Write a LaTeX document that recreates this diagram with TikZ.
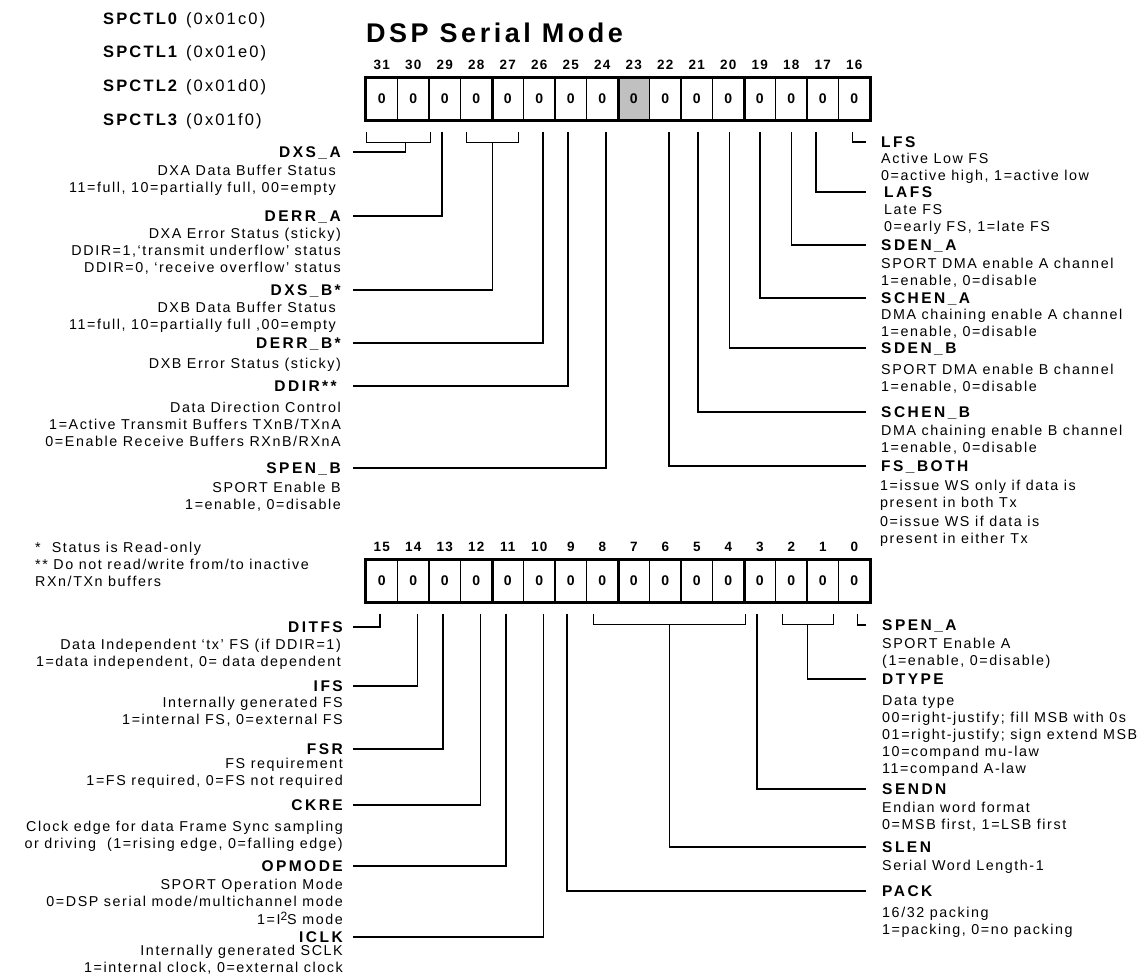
\documentclass[tikz,border=0pt]{standalone}
\usepackage{fontspec}
\setmainfont{Liberation Sans}
\newfontfamily\bodyf[LetterSpace=11]{Liberation Sans}
\newfontfamily\labf[LetterSpace=16]{Liberation Sans}
\newfontfamily\hdf[LetterSpace=13]{Liberation Sans}
\newfontfamily\numf[LetterSpace=8]{Liberation Sans}
\definecolor{graycell}{RGB}{192,192,192}
\begin{document}
\begin{tikzpicture}[x=1pt,y=-1pt,
  cell/.style={draw, line width=1.2pt, minimum width=31.5pt, minimum height=42pt, inner sep=0pt, font=\numf\bfseries\fontsize{14}{16}\selectfont},
  bitno/.style={inner sep=0pt, font=\numf\bfseries\fontsize{13.5}{15}\selectfont},
  conn/.style={line width=1.5pt},
  ttl/.style={inner sep=0pt, text height=11pt, text depth=0pt, font=\labf\bfseries\fontsize{15.5}{17}\selectfont},
  dsc/.style={inner sep=0pt, font=\bodyf\fontsize{14.3}{17}\selectfont},
  ldsc/.style={dsc, align=right, anchor=north east},
  rdsc/.style={dsc, align=left, anchor=north west},
  lttl/.style={ttl, anchor=east},
  rttl/.style={ttl, anchor=west},
  spc/.style={anchor=west, inner sep=0pt, font=\hdf\fontsize{16.5}{18}\selectfont},
  border/.style={line width=3pt},
  sep/.style={line width=3.5pt}]
\useasboundingbox (0,0) rectangle (1144,978);
\fill[white] (0,0) rectangle (1144,978);
% header
\node[spc] (s0) at (103,20) {\textbf{SPCTL0} (0x01c0)};
\node[spc] (s1) at (103,53) {\textbf{SPCTL1} (0x01e0)};
\node[spc] (s2) at (103,87) {\textbf{SPCTL2} (0x01d0)};
\node[spc] (s3) at (103,121) {\textbf{SPCTL3} (0x01f0)};
\node[anchor=west, inner sep=0pt, font=\hdf\bfseries\fontsize{27}{30}\selectfont] (title) at (366,33) {DSP Serial Mode};
% top register
\foreach \b/\f in {31/white,30/white,29/white,28/white,27/white,26/white,25/white,24/white,23/graycell,22/white,21/white,20/white,19/white,18/white,17/white,16/white}{
  \node[cell, fill=\f] (b\b) at ({366+(31-\b)*31.5+15.75},99) {0};
  \node[bitno] (n\b) at ({366+(31-\b)*31.5+15.75},65) {\b};
}
\draw[border] (b31.north west) rectangle (b16.south east);
\foreach \s in {28,24,20} \draw[sep] (b\s.north east) -- (b\s.south east);
% bottom register
\foreach \b in {15,14,...,0}{
  \node[cell, fill=white] (b\b) at ({366+(15-\b)*31.5+15.75},581) {0};
  \node[bitno] (n\b) at ({366+(15-\b)*31.5+15.75},547) {\b};
}
\draw[border] (b15.north west) rectangle (b0.south east);
\foreach \s in {12,8,4} \draw[sep] (b\s.north east) -- (b\s.south east);
\coordinate (lx) at (353,0);
\coordinate (rx) at (866,0);
% left labels (top)
\node[lttl] (DXSA) at (341,152) {DXS\_A};
\node[ldsc] (DXSAd) at (336,165) {DXA Data Buffer Status\\11=full, 10=partially full, 00=empty};
\node[lttl] (DERRA) at (341,216) {DERR\_A};
\node[ldsc] (DERRAd) at (341,228) {DXA Error Status (sticky)\\DDIR=1,‘transmit underflow’ status\\DDIR=0, ‘receive overflow’ status};
\node[lttl] (DXSB) at (341,290) {DXS\_B*};
\node[ldsc] (DXSBd) at (336,302) {DXB Data Buffer Status\\11=full, 10=partially full ,00=empty};
\node[lttl] (DERRB) at (341,343) {DERR\_B*};
\node[ldsc] (DERRBd) at (341,358) {DXB Error Status (sticky)};
\node[lttl] (DDIR) at (337,386) {DDIR**};
\node[ldsc] (DDIRd) at (341,402) {Data Direction Control\\1=Active Transmit Buffers TXnB/TXnA\\0=Enable Receive Buffers RXnB/RXnA};
\node[lttl] (SPENB) at (341,468) {SPEN\_B};
\node[ldsc] (SPENBd) at (341,482) {SPORT Enable B\\1=enable, 0=disable};
\node[dsc, align=left, anchor=north west] (fn) at (35,542) {*~~Status is Read-only\\** Do not read/write from/to inactive\\RXn/TXn buffers};
% left labels (bottom)
\node[lttl] (DITFS) at (343,627) {DITFS};
\node[ldsc] (DITFSd) at (341,639) {Data Independent ‘tx’ FS (if DDIR=1)\\1=data independent, 0= data dependent};
\node[lttl] (IFS) at (343,686) {IFS};
\node[ldsc] (IFSd) at (343,697) {Internally generated FS\\1=internal FS, 0=external FS};
\node[lttl] (FSR) at (343,749) {FSR};
\node[ldsc] (FSRd) at (343,758) {FS requirement\\1=FS required, 0=FS not required};
\node[lttl] (CKRE) at (343,805) {CKRE};
\node[ldsc] (CKREd) at (343,821) {Clock edge for data Frame Sync sampling\\or driving~~(1=rising edge, 0=falling edge)};
\node[lttl] (OPMODE) at (343,866) {OPMODE};
\node[ldsc] (OPMODEd) at (343,879) {SPORT Operation Mode\\0=DSP serial mode/multichannel mode\\[1pt]1=I\raisebox{4.5pt}{\fontsize{12}{12}\selectfont 2}S mode};
\node[lttl] (ICLK) at (343,937) {ICLK};
\node[ldsc] (ICLKd) at (343,945) {Internally generated SCLK\\1=internal clock, 0=external clock};
% right labels (top)
\node[rttl] (LFS) at (881,142) {LFS};
\node[rdsc] (LFSd) at (881,153) {Active Low FS\\0=active high, 1=active low};
\node[rttl] (LAFS) at (884,192) {LAFS};
\node[rdsc] (LAFSd) at (884,204) {Late FS\\0=early FS, 1=late FS};
\node[rttl] (SDENA) at (881,245) {SDEN\_A};
\node[rdsc] (SDENAd) at (881,258) {SPORT DMA enable A channel\\1=enable, 0=disable};
\node[rttl] (SCHENA) at (881,298) {SCHEN\_A};
\node[rdsc] (SCHENAd) at (881,309) {DMA chaining enable A channel\\1=enable, 0=disable};
\node[rttl] (SDENB) at (881,348) {SDEN\_B};
\node[rdsc] (SDENBd) at (881,364) {SPORT DMA enable B channel\\1=enable, 0=disable};
\node[rttl] (SCHENB) at (881,412) {SCHEN\_B};
\node[rdsc] (SCHENBd) at (881,425) {DMA chaining enable B channel\\1=enable, 0=disable};
\node[rttl] (FSBOTH) at (881,466) {FS\_BOTH};
\node[rdsc] (FSBOTHd) at (880,480) {1=issue WS only if data is\\present in both Tx\\[2pt]0=issue WS if data is\\present in either Tx};
% right labels (bottom)
\node[rttl] (SPENA) at (882,625) {SPEN\_A};
\node[rdsc] (SPENAd) at (882,638) {SPORT Enable A\\(1=enable, 0=disable)};
\node[rttl] (DTYPE) at (882,679) {DTYPE};
\node[rdsc] (DTYPEd) at (882,695) {Data type\\00=right-justify; fill MSB with 0s\\01=right-justify; sign extend MSB\\10=compand mu-law\\11=compand A-law};
\node[rttl] (SENDN) at (882,789) {SENDN};
\node[rdsc] (SENDNd) at (882,802) {Endian word format\\0=MSB first, 1=LSB first};
\node[rttl] (SLEN) at (882,847) {SLEN};
\node[rdsc] (SLENd) at (882,860) {Serial Word Length-1};
\node[rttl] (PACK) at (882,891) {PACK};
\node[rdsc] (PACKd) at (882,907) {16/32 packing\\1=packing, 0=no packing};
% connectors top
\draw[conn] ([shift={(1,11)}]b31.south west) -- ++(0,11) -| ([shift={(1,11)}]b30.south east);
\draw[conn] ([shift={(7.5,22)}]b31.south east) |- (DXSA.east -| lx);
\draw[conn] ([shift={(-3,11)}]b29.south) |- (DERRA.east -| lx);
\draw[conn] ([shift={(6.5,11)}]b28.south west) -- ++(0,11) -| ([shift={(-5.5,11)}]b27.south east);
\draw[conn] ([shift={(0,22)}]b28.south east) |- (DXSB.east -| lx);
\draw[conn] ([shift={(3.5,11)}]b26.south) |- (DERRB.east -| lx);
\draw[conn] ([shift={(-3,11)}]b25.south) |- (DDIR.east -| lx);
\draw[conn] ([shift={(3.5,11)}]b24.south) |- (SPENB.east -| lx);
\draw[conn] ([shift={(3.5,11)}]b22.south) |- (FSBOTH.west -| rx);
\draw[conn] ([shift={(1.3,11)}]b21.south) |- (SCHENB.west -| rx);
\draw[conn] ([shift={(1,11)}]b20.south) |- (SDENB.west -| rx);
\draw[conn] ([shift={(0,11)}]b19.south) |- (SCHENA.west -| rx);
\draw[conn] ([shift={(0,11)}]b18.south) |- (SDENA.west -| rx);
\draw[conn] ([shift={(-7,11)}]b17.south) |- (LAFS.west -| rx);
\draw[conn] ([shift={(-2,11)}]b16.south) |- (LFS.west -| rx);
% connectors bottom
\draw[conn] ([shift={(-2,11)}]b15.south) |- (DITFS.east -| lx);
\draw[conn] ([shift={(4,11)}]b14.south) |- (IFS.east -| lx);
\draw[conn] ([shift={(-2,11)}]b13.south) |- (FSR.east -| lx);
\draw[conn] ([shift={(4,11)}]b12.south) |- (CKRE.east -| lx);
\draw[conn] ([shift={(-2,11)}]b11.south) |- (OPMODE.east -| lx);
\draw[conn] ([shift={(4,11)}]b10.south) |- (ICLK.east -| lx);
\draw[conn] ([shift={(-4,11)}]b9.south) |- (PACK.west -| rx);
\draw[conn] ([shift={(7.5,11)}]b8.south west) -- ++(0,11) -| ([shift={(1,11)}]b4.south east);
\draw[conn] ([shift={(4,22)}]b6.south) |- (SLEN.west -| rx);
\draw[conn] ([shift={(-3,11)}]b3.south) |- (SENDN.west -| rx);
\draw[conn] ([shift={(7.5,11)}]b2.south west) -- ++(0,11) -| ([shift={(-5.5,11)}]b1.south east);
\draw[conn] ([shift={(0,22)}]b2.south east) |- (DTYPE.west -| rx);
\draw[conn] ([shift={(3,11)}]b0.south) |- (SPENA.west -| rx);
\end{tikzpicture}
\end{document}
